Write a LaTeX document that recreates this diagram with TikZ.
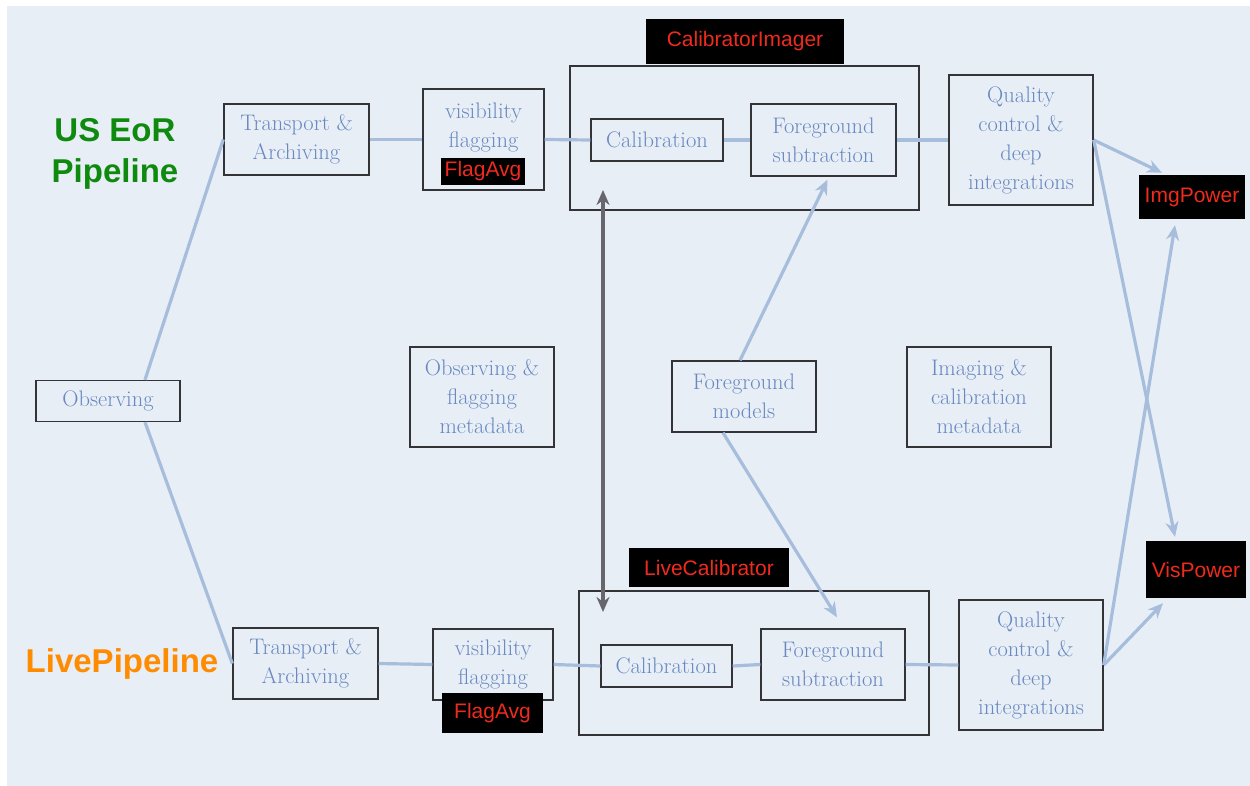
\documentclass[tikz,border=0pt]{standalone}
\usepackage{fontspec}
\usetikzlibrary{arrows.meta}
\newfontfamily\helv{Liberation Sans}
\newcommand\bodyfont{\fontsize{22.5}{29}\selectfont}
\newcommand\tagfont{\helv\fontsize{21}{24}\selectfont}
\newcommand\bigfont{\helv\bfseries\fontsize{33}{41}\selectfont}
\definecolor{paper}{RGB}{232,238,246}
\definecolor{ink}{RGB}{104,136,192}
\definecolor{wirecol}{RGB}{166,189,220}
\definecolor{framecol}{RGB}{52,52,56}
\definecolor{tagred}{RGB}{240,42,30}
\definecolor{usgreen}{RGB}{14,138,14}
\definecolor{liveorange}{RGB}{255,140,0}
\definecolor{linkgray}{RGB}{102,102,108}
\tikzset{
  box/.style={draw=framecol, line width=1.4pt, text=ink, font=\bodyfont,
    align=center, inner sep=0pt},
  tag/.style={fill=black, text=tagred, font=\tagfont, inner sep=0pt},
  wire/.style={draw=wirecol, line width=3.2pt},
  flow/.style={wire, -{Stealth[length=15pt,width=13pt]}},
  link/.style={draw=linkgray, line width=3.2pt,
    {Stealth[length=15pt,width=13pt]}-{Stealth[length=15pt,width=13pt]}}
}
\begin{document}
\begin{tikzpicture}[x=1pt,y=-1pt]
\useasboundingbox (0,0) rectangle (1250,786);
\fill[paper] (7,6) rectangle (1250,786);

% pipeline titles
\node[font=\bigfont, text=usgreen, align=center] (usTitle) at (115,154) {US EoR\\Pipeline};
\node[font=\bigfont, text=liveorange] (liveTitle) at (122,664) {LivePipeline};

% boxes
\node[box, minimum width=144, minimum height=41] (obs) at (108,401) {Observing};

\node[box, minimum width=145, minimum height=71] (trT) at (296.5,139.5) {Transport \&\\Archiving};
\node[box, minimum width=121, minimum height=101] (visT) at (483.5,139.5) {visibility\\flagging\\\mbox{}};
\node[box, minimum width=349, minimum height=144] (outT) at (744.5,138) {};
\node[box, minimum width=132, minimum height=42] (calT) at (657,140) {Calibration};
\node[box, minimum width=145, minimum height=72] (fgsT) at (823.5,140) {Foreground\\subtraction};
\node[box, minimum width=144, minimum height=130] (qcT) at (1021,140) {Quality\\control \&\\deep\\integrations};

\node[box, minimum width=144, minimum height=100] (ofm) at (482,397) {Observing \&\\flagging\\metadata};
\node[box, minimum width=144, minimum height=71] (fgm) at (744,396.5) {Foreground\\models};
\node[box, minimum width=144, minimum height=100] (icm) at (979,397) {Imaging \&\\calibration\\metadata};

\node[box, minimum width=145, minimum height=71] (trB) at (305.5,663.5) {Transport \&\\Archiving};
\node[box, minimum width=120, minimum height=71] (visB) at (493,664.5) {visibility\\flagging};
\node[box, minimum width=350, minimum height=144] (outB) at (754,663) {};
\node[box, minimum width=131, minimum height=42] (calB) at (666.5,666) {Calibration};
\node[box, minimum width=144, minimum height=71] (fgsB) at (833,664.5) {Foreground\\subtraction};
\node[box, minimum width=144, minimum height=130] (qcB) at (1031,665) {Quality\\control \&\\deep\\integrations};

% free ends of the link between the two calibrators
\coordinate (linkTop) at (603,190);
\coordinate (linkBot) at (603,612);

% connectors along each pipeline
\draw[wire] ([xshift=37pt]obs.north) -- (trT.west);
\draw[wire] ([xshift=37pt]obs.south) -- (trB.west);
\draw[wire] (trT.east) -- (visT.west);
\draw[wire] (visT.east) -- (calT.west);
\draw[wire] (calT.east) -- (fgsT.west);
\draw[wire] (fgsT.east) -- (qcT.west);
\draw[wire] (trB.east) -- (visB.west);
\draw[wire] (visB.east) -- (calB.west);
\draw[wire] (calB.east) -- (fgsB.west);
\draw[wire] (fgsB.east) -- (qcB.west);

% red labels
\node[tag, minimum width=84, minimum height=27] (fgaT) at (483,171.5) {FlagAvg};
\node[tag, minimum width=101, minimum height=40] (fgaB) at (492.5,713) {FlagAvg};
\node[tag, minimum width=198, minimum height=45] (ciTag) at (745,41.5) {CalibratorImager};
\node[tag, minimum width=160, minimum height=39] (lcTag) at (709,567.5) {LiveCalibrator};
\node[tag, minimum width=106, minimum height=44] (img) at (1192,197) {ImgPower};
\node[tag, minimum width=100, minimum height=57] (vis) at (1196,569.5) {VisPower};

% arrows
\draw[flow] (qcT.east) -- ([xshift=-30pt,yshift=2pt]img.north);
\draw[flow] (qcT.east) -- ([xshift=-21pt,yshift=4pt]vis.north);
\draw[flow] (qcB.east) -- ([xshift=-17pt,yshift=-6pt]img.south);
\draw[flow] (qcB.east) -- ([xshift=-33pt,yshift=-5pt]vis.south);
\draw[flow] ([xshift=-4pt]fgm.north) -- ([xshift=4pt,yshift=-3pt]fgsT.south);
\draw[flow] ([xshift=-21pt]fgm.south) -- ([xshift=4pt,yshift=11pt]fgsB.north);
\draw[link] (linkTop) -- (linkBot);
\end{tikzpicture}
\end{document}
